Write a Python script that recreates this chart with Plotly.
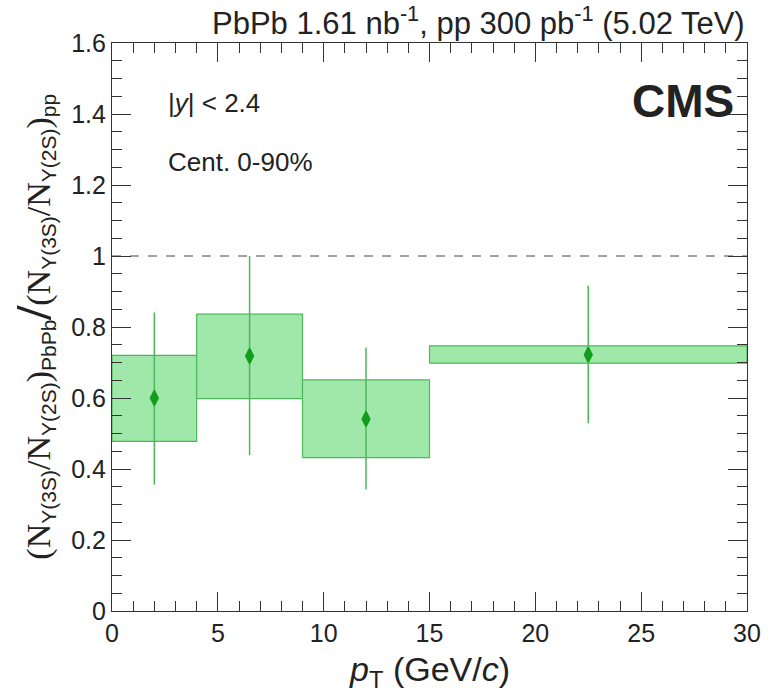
import plotly.graph_objects as go

# data
pt_center = [2.0, 6.5, 12.0, 22.5]
pt_lo = [0.0, 4.0, 9.0, 15.0]
pt_hi = [4.0, 9.0, 15.0, 30.0]
ratio = [0.60, 0.718, 0.541, 0.722]
stat_up = [0.841, 1.0, 0.742, 0.916]
stat_dn = [0.356, 0.439, 0.342, 0.529]
sys_up = [0.72, 0.836, 0.651, 0.747]
sys_dn = [0.478, 0.598, 0.432, 0.698]
x_ticks = [0, 5, 10, 15, 20, 25, 30]
y_ticks = [0, 0.2, 0.4, 0.6, 0.8, 1.0, 1.2, 1.4, 1.6]
y_ticktext = ["0", "0.2", "0.4", "0.6", "0.8", "1", "1.2", "1.4", "1.6"]

FONT = "Liberation Sans, Arial, sans-serif"
SERIF = "Liberation Serif, Times New Roman, serif"
fig = go.Figure()

# systematic boxes
for lo, hi, sl, su in zip(pt_lo, pt_hi, sys_dn, sys_up):
    fig.add_trace(go.Scatter(
        x=[lo, hi, hi, lo, lo], y=[sl, sl, su, su, sl],
        mode="lines", fill="toself", fillcolor="rgba(160,232,170,1)",
        line=dict(color="#4cb85a", width=1.2), showlegend=False, hoverinfo="skip"))

# dashed line at unity
fig.add_trace(go.Scatter(x=[0, 30], y=[1, 1], mode="lines",
                         line=dict(color="#444", width=1, dash="dash"),
                         showlegend=False, hoverinfo="skip"))

# points with stat error bars
fig.add_trace(go.Scatter(
    x=pt_center, y=ratio, mode="markers",
    marker=dict(symbol="diamond-tall", size=10.5, color="#109e1c",
                line=dict(color="#109e1c", width=1.8)),
    error_y=dict(type="data", symmetric=False,
                 array=[u - r for u, r in zip(stat_up, ratio)],
                 arrayminus=[r - d for r, d in zip(ratio, stat_dn)],
                 color="#4cb85a", thickness=1.5, width=0),
    showlegend=False))

axis_common = dict(showgrid=False, zeroline=False, showline=True, linecolor="#333",
                   linewidth=1.2, ticks="inside", mirror="ticks", tickcolor="#333",
                   ticklen=19, tickwidth=1.2,
                   tickfont=dict(family=FONT, size=25, color="#222"))

fig.update_xaxes(range=[0, 30], tickvals=x_ticks,
                 minor=dict(dtick=1, ticks="inside", ticklen=10, tickcolor="#333", tickwidth=1.2),
                 **axis_common)
fig.update_yaxes(range=[0, 1.6], tickvals=y_ticks, ticktext=y_ticktext,
                 minor=dict(dtick=0.05, ticks="inside", ticklen=10, tickcolor="#333", tickwidth=1.2),
                 **axis_common)

fig.update_layout(
    width=773, height=692,
    margin=dict(l=112, r=16, t=43, b=81),
    plot_bgcolor="white", paper_bgcolor="white",
    font=dict(family=FONT, color="#222"),
)

def ser(t, s):
    return f"<span style='font-family:{SERIF};font-size:{s}px'>{t}</span>"

frac = (ser("(N", 34) + "<sub>Υ(3S)</sub>" + ser("/N", 34) + "<sub>Υ(2S)</sub>" + ser(")", 34))
ytitle = (frac + "<sub>PbPb</sub>" + ser("<b>/</b>", 50) + frac + "<sub>pp</sub>")

ann = [
    dict(text="PbPb 1.61 nb<sup>-1</sup>, pp 300 pb<sup>-1</sup> (5.02 TeV)",
         x=1.0, xref="paper", y=1.0, yref="paper", xanchor="right", yanchor="bottom",
         yshift=0, font=dict(size=31, family=FONT), showarrow=False),
    dict(text="<b>CMS</b>", x=0.983, xref="paper", y=0.898, yref="paper",
         xanchor="right", yanchor="middle", font=dict(size=46, family=FONT), showarrow=False),
    dict(text="|<i>y</i>| < 2.4", x=0.085, xref="paper", y=0.894, yref="paper",
         xanchor="left", yanchor="middle", font=dict(size=26, family=FONT), showarrow=False),
    dict(text="Cent. 0-90%", x=0.085, xref="paper", y=0.79, yref="paper",
         xanchor="left", yanchor="middle", font=dict(size=26, family=FONT), showarrow=False),
    dict(text="<i>p</i><sub>T</sub> (GeV/<i>c</i>)", x=0.5, xref="paper", y=-0.066, yref="paper",
         xanchor="center", yanchor="top", font=dict(size=34, family=FONT), showarrow=False),
    dict(text=ytitle,
         x=-0.125, xref="paper", y=0.5, yref="paper", textangle=-90,
         xanchor="center", yanchor="middle",
         font=dict(size=30, family=FONT), showarrow=False),
]
fig.update_layout(annotations=ann)

fig.write_html("out.html", config={"displayModeBar": False},
               post_script="document.body.style.margin='0px';")
